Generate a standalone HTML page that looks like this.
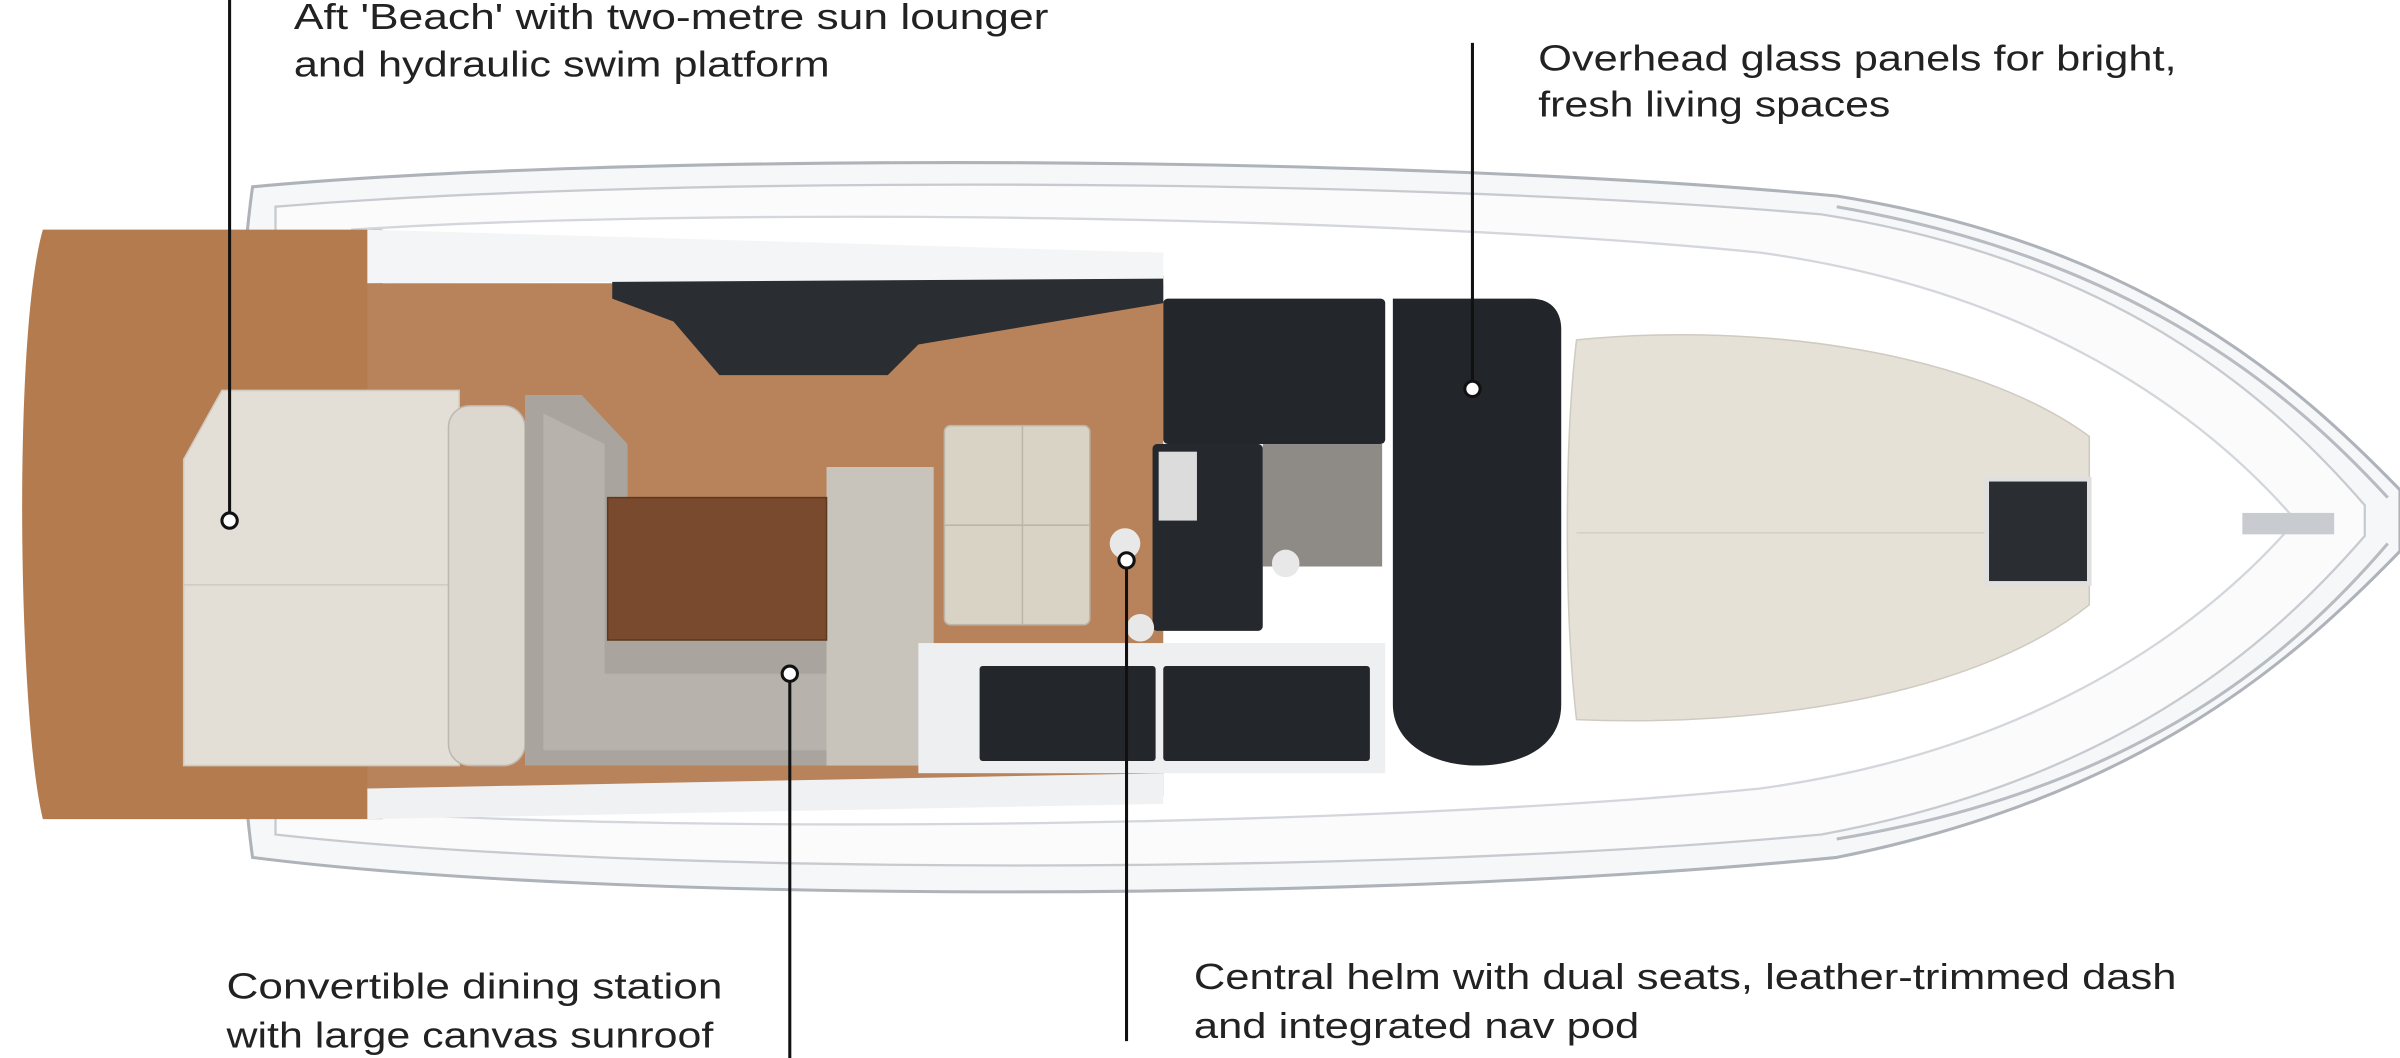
<!DOCTYPE html>
<html><head><meta charset="utf-8"><style>
html,body{margin:0;padding:0;background:#fff;}
svg{display:block}
text{font-family:"Liberation Sans",sans-serif;fill:#222;font-size:23.5px}
</style></head><body>
<svg width="2400" height="1058" viewBox="0 0 1568 691" preserveAspectRatio="none" xmlns="http://www.w3.org/2000/svg">
<rect width="1568" height="691" fill="#fff"/>
<path d="M165,122 C400,100 900,100 1200,128 C1400,160 1500,250 1568,320 L1568,360 C1500,430 1400,520 1200,560 C900,590 400,590 165,560 C150,450 150,230 165,122Z" fill="#f6f7f8" stroke="#aeb3ba" stroke-width="2"/>
<path d="M180,135 C420,115 900,115 1190,140 C1380,170 1480,255 1545,330 L1545,350 C1480,425 1380,510 1190,545 C900,572 420,572 180,545Z" fill="#fbfbfc" stroke="#c7cbd0" stroke-width="1.5"/>
<path d="M230,150 C460,135 900,140 1150,165 C1330,190 1440,270 1500,340 C1440,410 1330,490 1150,515 C900,540 460,545 230,530Z" fill="#ffffff" stroke="#d3d6da" stroke-width="1.5"/>
<path d="M28,150 L250,150 L250,535 L28,535 C12,470 8,220 28,150Z" fill="#b47c4e"/>
<rect x="240" y="185" width="520" height="335" fill="#b8825a"/>
<path d="M400,180 L760,180 L760,198 L600,225 L580,245 L470,245 L440,210 L400,195Z" fill="#2a2d31"/>
<path d="M240,150 L760,165 L760,182 L240,185Z" fill="#f4f5f6"/>
<path d="M240,515 L760,505 L760,525 L240,535Z" fill="#f0f1f2"/>
<path d="M120,300 L145,255 L300,255 L300,500 L120,500Z" fill="#e4dfd6" stroke="#cfc9bf"/>
<line x1="120" y1="382" x2="300" y2="382" stroke="#cfc9bf"/>
<rect x="293" y="265" width="50" height="235" rx="14" fill="#dcd8d0" stroke="#bdb8b0"/>
<path d="M343,258 L380,258 L410,290 L410,325 L600,325 L600,500 L343,500Z" fill="#a9a59e"/>
<path d="M355,270 L395,290 L395,440 L590,440 L590,490 L355,490Z" fill="#b7b3ac"/>
<rect x="540" y="305" width="70" height="195" fill="#c8c4bc"/>
<rect x="397" y="325" width="143" height="93" fill="#7a4a2e" stroke="#5e3820"/>
<rect x="617" y="278" width="95" height="130" rx="4" fill="#d9d3c6" stroke="#bdb6a8"/>
<line x1="617" y1="343" x2="712" y2="343" stroke="#bdb6a8"/>
<line x1="668" y1="278" x2="668" y2="408" stroke="#bdb6a8"/>
<rect x="600" y="420" width="305" height="85" fill="#eeeff0"/>
<rect x="640" y="435" width="115" height="62" rx="2" fill="#23262b"/>
<rect x="760" y="435" width="135" height="62" rx="2" fill="#23262b"/>
<rect x="760" y="195" width="145" height="95" rx="3" fill="#23262b"/>
<rect x="825" y="290" width="78" height="80" fill="#8e8b87"/>
<rect x="753" y="290" width="72" height="122" rx="3" fill="#25282c"/>
<rect x="757" y="295" width="25" height="45" fill="#dcdcdc"/>
<circle cx="735" cy="355" r="10" fill="#e8e8e8"/>
<circle cx="745" cy="410" r="9" fill="#e8e8e8"/>
<circle cx="840" cy="368" r="9" fill="#e8e8e8"/>
<path d="M910,195 L1000,195 C1015,195 1020,205 1020,215 L1020,460 C1020,490 990,500 965,500 C935,500 910,485 910,460Z" fill="#22252a"/>
<path d="M1030,222 C1150,210 1290,230 1365,285 L1365,395 C1290,455 1150,475 1030,470 C1022,400 1022,290 1030,222Z" fill="#e6e1d7" stroke="#d0cbc1"/>
<line x1="1030" y1="348" x2="1365" y2="348" stroke="#d6d1c7"/>
<rect x="1298" y="313" width="67" height="68" fill="#2a2d31" stroke="#e0e0e0" stroke-width="3"/>
<path d="M1200,135 C1400,170 1500,260 1560,325" fill="none" stroke="#b7bcc2" stroke-width="2"/>
<path d="M1200,548 C1400,515 1500,425 1560,355" fill="none" stroke="#b7bcc2" stroke-width="2"/>
<rect x="1465" y="335" width="60" height="14" fill="#c8ccd0"/>
<g stroke="#111" stroke-width="2">
<line x1="150" y1="0" x2="150" y2="340"/>
<line x1="962" y1="28" x2="962" y2="254"/>
<line x1="516" y1="440" x2="516" y2="691"/>
<line x1="736" y1="366" x2="736" y2="680"/>
</g>
<g fill="#fff" stroke="#111" stroke-width="2">
<circle cx="150" cy="340" r="5"/>
<circle cx="962" cy="254" r="5"/>
<circle cx="516" cy="440" r="5"/>
<circle cx="736" cy="366" r="5"/>
</g>
<text x="192" y="19" textLength="493" lengthAdjust="spacingAndGlyphs">Aft 'Beach' with two-metre sun lounger</text>
<text x="192" y="50" textLength="350" lengthAdjust="spacingAndGlyphs">and hydraulic swim platform</text>
<text x="1005" y="46" textLength="417" lengthAdjust="spacingAndGlyphs">Overhead glass panels for bright,</text>
<text x="1005" y="76" textLength="230" lengthAdjust="spacingAndGlyphs">fresh living spaces</text>
<text x="148" y="652" textLength="324" lengthAdjust="spacingAndGlyphs">Convertible dining station</text>
<text x="148" y="684" textLength="318" lengthAdjust="spacingAndGlyphs">with large canvas sunroof</text>
<text x="780" y="646" textLength="642" lengthAdjust="spacingAndGlyphs">Central helm with dual seats, leather-trimmed dash</text>
<text x="780" y="678" textLength="291" lengthAdjust="spacingAndGlyphs">and integrated nav pod</text>
</svg>
</body></html>
